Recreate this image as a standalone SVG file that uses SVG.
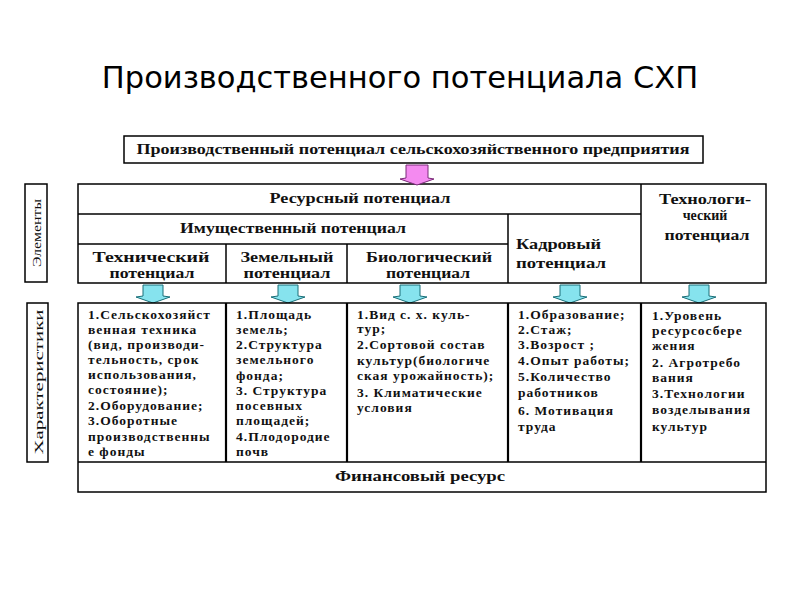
<svg xmlns="http://www.w3.org/2000/svg" width="800" height="600" viewBox="0 0 800 600">
<defs>
<style>
.t{font-family:"Liberation Serif","Times New Roman",serif;font-weight:bold;fill:#111;}
.h{font-size:14px;text-anchor:middle;}
.c{font-size:13.5px;letter-spacing:1px;}
.rl{font-family:"Liberation Serif","Times New Roman",serif;font-size:13px;fill:#111;text-anchor:middle;}
.box{fill:#fff;stroke:#000;stroke-width:1.5;}
.ln{stroke:#000;stroke-width:1.5;fill:none;}
.thick{stroke:#000;stroke-width:2.2;fill:none;}
.ac{fill:#86e3ee;stroke:#1a6f78;stroke-width:1;}
.ap{fill:#f48af0;stroke:#7a2a78;stroke-width:1;}
</style>
</defs>
<rect width="800" height="600" fill="#fff"/>
<text x="400" y="88" font-family="DejaVu Sans, sans-serif" font-size="30.5" text-anchor="middle" fill="#000">Производственного потенциала СХП</text>

<g id="top">
<rect class="box" x="124" y="136" width="579" height="27"/>
<text class="t" x="413" y="154" font-size="14" text-anchor="middle" textLength="553" lengthAdjust="spacingAndGlyphs">Производственный потенциал сельскохозяйственного предприятия</text>
</g>

<g id="label-elements">
<rect class="box" x="25" y="184" width="22" height="98"/>
<text class="rl" transform="translate(41,233) rotate(-90)" textLength="68" lengthAdjust="spacingAndGlyphs">Элементы</text>
</g>
<g id="label-characteristics">
<rect class="box" x="27" y="303" width="21" height="159"/>
<text class="rl" transform="translate(43,382) rotate(-90)" textLength="145" lengthAdjust="spacingAndGlyphs">Характеристики</text>
</g>

<g id="elements">
<rect class="box" x="78" y="184" width="688" height="99"/>
<line class="ln" x1="78" y1="214" x2="641" y2="214"/>
<line class="ln" x1="78" y1="244" x2="508" y2="244"/>
<line class="ln" x1="641" y1="184" x2="641" y2="283"/>
<line class="ln" x1="508" y1="214" x2="508" y2="283"/>
<line class="ln" x1="226" y1="244" x2="226" y2="283"/>
<line class="ln" x1="347" y1="244" x2="347" y2="283"/>
</g>
<g id="node-resource"><text class="t h" x="360" y="203" textLength="181" lengthAdjust="spacingAndGlyphs">Ресурсный потенциал</text></g>
<g id="node-property"><text class="t h" x="293" y="233" textLength="226" lengthAdjust="spacingAndGlyphs">Имущественный потенциал</text></g>
<g id="node-technical"><text class="t h" x="151" y="262" textLength="117" lengthAdjust="spacingAndGlyphs">Технический</text><text class="t h" x="152" y="278" textLength="85" lengthAdjust="spacingAndGlyphs">потенциал</text></g>
<g id="node-land"><text class="t h" x="287" y="262" textLength="93" lengthAdjust="spacingAndGlyphs">Земельный</text><text class="t h" x="287" y="278" textLength="87" lengthAdjust="spacingAndGlyphs">потенциал</text></g>
<g id="node-bio"><text class="t h" x="429" y="262" textLength="126" lengthAdjust="spacingAndGlyphs">Биологический</text><text class="t h" x="428" y="278" textLength="84" lengthAdjust="spacingAndGlyphs">потенциал</text></g>
<g id="node-staff"><text class="t" x="516" y="249" font-size="14" textLength="85" lengthAdjust="spacingAndGlyphs">Кадровый</text><text class="t" x="516" y="268" font-size="14" textLength="90" lengthAdjust="spacingAndGlyphs">потенциал</text></g>
<g id="node-tech"><text class="t h" x="705" y="204" textLength="92" lengthAdjust="spacingAndGlyphs">Технологи-</text><text class="t h" x="705" y="220">ческий</text><text class="t h" x="707" y="240" textLength="85" lengthAdjust="spacingAndGlyphs">потенциал</text></g>

<g id="connectors">
<path class="ap" d="M406,165 H428 V178 L434,179 L417,185 L400,179 L406,178 Z"/>
<path class="ac" d="M143,285 H163 V296 L170,297 L153,303 L136,297 L143,296 Z"/>
<path class="ac" d="M278,285 H298 V296 L305,297 L288,303 L271,297 L278,296 Z"/>
<path class="ac" d="M400,285 H420 V296 L427,297 L410,303 L393,297 L400,296 Z"/>
<path class="ac" d="M560,285 H580 V296 L587,297 L570,303 L553,297 L560,296 Z"/>
<path class="ac" d="M689,285 H709 V296 L716,297 L699,303 L682,297 L689,296 Z"/>
</g>

<g id="characteristics">
<rect class="box" x="78" y="303" width="688" height="189"/>
<line class="ln" x1="78" y1="462" x2="766" y2="462"/>
<line class="thick" x1="226" y1="303" x2="226" y2="462"/>
<line class="thick" x1="347" y1="303" x2="347" y2="462"/>
<line class="thick" x1="508" y1="303" x2="508" y2="462"/>
<line class="thick" x1="641" y1="303" x2="641" y2="462"/>
</g>
<g id="char-technical" class="t c">
<text x="88" y="319">1.Сельскохозяйст</text>
<text x="88" y="334">венная техника</text>
<text x="88" y="349">(вид, производи-</text>
<text x="88" y="364">тельность, срок</text>
<text x="88" y="379">использования,</text>
<text x="88" y="394">состояние);</text>
<text x="88" y="410">2.Оборудование;</text>
<text x="88" y="425">3.Оборотные</text>
<text x="88" y="441">производственны</text>
<text x="88" y="456">е фонды</text>
</g>
<g id="char-land" class="t c">
<text x="236" y="319">1.Площадь</text>
<text x="236" y="334">земель;</text>
<text x="236" y="349">2.Структура</text>
<text x="236" y="364">земельного</text>
<text x="236" y="380">фонда;</text>
<text x="236" y="395">3. Структура</text>
<text x="236" y="410">посевных</text>
<text x="236" y="425">площадей;</text>
<text x="236" y="441">4.Плодородие</text>
<text x="236" y="456">почв</text>
</g>
<g id="char-bio" class="t c">
<text x="357" y="319">1.Вид с. х. куль-</text>
<text x="357" y="333">тур;</text>
<text x="357" y="349">2.Сортовой состав</text>
<text x="357" y="365">культур(биологиче</text>
<text x="357" y="380">ская урожайность);</text>
<text x="357" y="397">3. Климатические</text>
<text x="357" y="412">условия</text>
</g>
<g id="char-staff" class="t c">
<text x="518" y="319">1.Образование;</text>
<text x="518" y="334">2.Стаж;</text>
<text x="518" y="349">3.Возрост ;</text>
<text x="518" y="365">4.Опыт работы;</text>
<text x="518" y="381">5.Количество</text>
<text x="518" y="397">работников</text>
<text x="518" y="415">6. Мотивация</text>
<text x="518" y="431">труда</text>
</g>
<g id="char-tech" class="t c">
<text x="652" y="320">1.Уровень</text>
<text x="652" y="335">ресурсосбере</text>
<text x="652" y="350">жения</text>
<text x="652" y="367">2. Агротребо</text>
<text x="652" y="382">вания</text>
<text x="652" y="398">3.Технологии</text>
<text x="652" y="414">возделывания</text>
<text x="652" y="431">культур</text>
</g>
<g id="node-finance"><text class="t h" x="420" y="481" textLength="170" lengthAdjust="spacingAndGlyphs">Финансовый ресурс</text></g>
</svg>
